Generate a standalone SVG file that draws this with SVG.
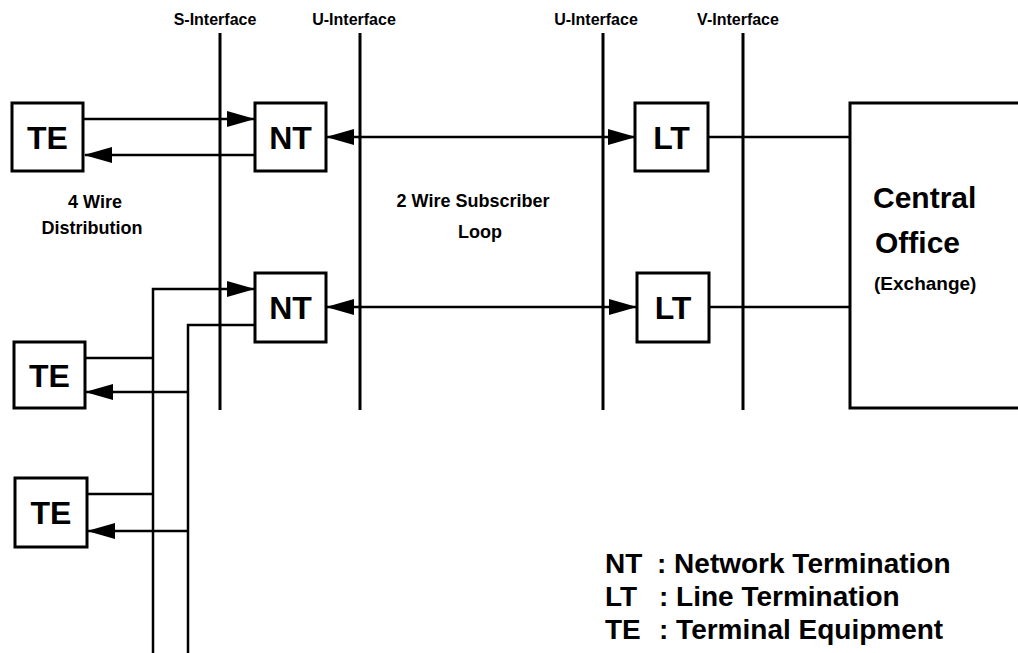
<svg xmlns="http://www.w3.org/2000/svg" width="1018" height="653" viewBox="0 0 1018 653">
<style>
text{font-family:"Liberation Sans",Arial,sans-serif;font-weight:bold;fill:#000}
.box{fill:#fff;stroke:#000;stroke-width:3}
.iface{stroke:#000;stroke-width:3;fill:none}
.conn{stroke:#000;stroke-width:2.5;fill:none}
.lbl{font-size:16px;text-anchor:middle}
.mid{font-size:18px;text-anchor:middle}
.node{font-size:32px;text-anchor:middle}
.leg{font-size:28px}
</style>
<defs>
<marker id="ah" markerUnits="userSpaceOnUse" markerWidth="28" markerHeight="16" refX="27" refY="8" orient="auto-start-reverse">
<path d="M0,0 L28,8 L0,16 Z" fill="#000"/>
</marker>
</defs>
<rect width="1018" height="653" fill="#fff"/>

<g id="interfaces">
<line class="iface" x1="220" y1="33" x2="220" y2="410"/>
<line class="iface" x1="360" y1="33" x2="360" y2="410"/>
<line class="iface" x1="603" y1="33" x2="603" y2="410"/>
<line class="iface" x1="743" y1="33" x2="743" y2="410"/>
<text class="lbl" x="215" y="25">S-Interface</text>
<text class="lbl" x="354" y="25">U-Interface</text>
<text class="lbl" x="596" y="25">U-Interface</text>
<text class="lbl" x="738" y="25">V-Interface</text>
</g>

<g id="connectors">
<path class="conn" d="M83,119 H254" marker-end="url(#ah)"/>
<path class="conn" d="M255,155 H85" marker-end="url(#ah)"/>
<path class="conn" d="M327,137 H635" marker-start="url(#ah)" marker-end="url(#ah)"/>
<path class="conn" d="M708,137 H850"/>
<path class="conn" d="M327,307 H636" marker-start="url(#ah)" marker-end="url(#ah)"/>
<path class="conn" d="M709,307 H850"/>
<path class="conn" d="M153,653 V289 H254" marker-end="url(#ah)"/>
<path class="conn" d="M255,325 H188 V653"/>
<path class="conn" d="M85,358 H153"/>
<path class="conn" d="M188,392 H86" marker-end="url(#ah)"/>
<path class="conn" d="M87,494 H153"/>
<path class="conn" d="M188,531 H88" marker-end="url(#ah)"/>
</g>

<g id="te1">
<rect class="box" x="12" y="103" width="71" height="68"/>
<text class="node" x="47.5" y="149">TE</text>
</g>
<g id="nt1">
<rect class="box" x="255" y="103" width="71" height="68"/>
<text class="node" x="290.5" y="149">NT</text>
</g>
<g id="lt1">
<rect class="box" x="635" y="103" width="73" height="68"/>
<text class="node" x="671.5" y="149">LT</text>
</g>
<g id="nt2">
<rect class="box" x="255" y="273" width="71" height="69"/>
<text class="node" x="290.5" y="319">NT</text>
</g>
<g id="lt2">
<rect class="box" x="637" y="273" width="72" height="69"/>
<text class="node" x="673" y="319">LT</text>
</g>
<g id="te2">
<rect class="box" x="14" y="342" width="71" height="66"/>
<text class="node" x="49.5" y="387">TE</text>
</g>
<g id="te3">
<rect class="box" x="15" y="478" width="72" height="69"/>
<text class="node" x="51" y="524">TE</text>
</g>
<g id="co">
<rect class="box" x="850" y="103" width="200" height="305"/>
<text x="873" y="208" style="font-size:30px">Central</text>
<text x="875" y="253" style="font-size:30px">Office</text>
<text x="874" y="290" style="font-size:19px">(Exchange)</text>
</g>

<g id="labels">
<text class="mid" x="95" y="208">4 Wire</text>
<text class="mid" x="92" y="234">Distribution</text>
<text class="mid" x="473" y="207">2 Wire Subscriber</text>
<text class="mid" x="480" y="238">Loop</text>
</g>

<g id="legend">
<text class="leg" x="605" y="573">NT</text>
<text class="leg" x="657" y="573">: Network Termination</text>
<text class="leg" x="605" y="606">LT</text>
<text class="leg" x="659" y="606">: Line Termination</text>
<text class="leg" x="605" y="639">TE</text>
<text class="leg" x="659" y="639">: Terminal Equipment</text>
</g>
</svg>
